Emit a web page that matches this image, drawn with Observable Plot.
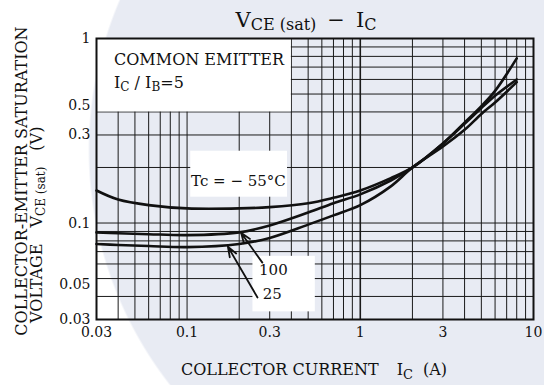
<!DOCTYPE html>
<html><head><meta charset="utf-8">
<script src="https://cdn.jsdelivr.net/npm/d3@7"></script>
<script src="https://cdn.jsdelivr.net/npm/@observablehq/plot@0.6"></script>
<style>
html,body{margin:0;padding:0;}
body{width:544px;height:385px;overflow:hidden;font-family:"DejaVu Serif",serif;
background:radial-gradient(circle at 470px 150px,#e8ebf3 0,#e8ebf3 380px,#ffffff 382px);}
#chart svg{display:block;}
</style></head><body><div id="chart"></div>
<script>
// Collector current (A), shared by all three curves
const ic = [0.03,0.04,0.06,0.1,0.2,0.3,0.5,0.7,1,1.5,2,3,4,5,6,8];
// VCE(sat) (V) for each case temperature
const vceM55 = [0.15,0.134,0.125,0.12,0.12,0.122,0.128,0.137,0.15,0.175,0.2,0.27,0.35,0.43,0.52,0.78];
const vce100 = [0.089,0.088,0.087,0.086,0.089,0.097,0.114,0.128,0.143,0.17,0.2,0.27,0.345,0.42,0.49,0.6];
const vce25  = [0.077,0.076,0.075,0.074,0.077,0.083,0.098,0.11,0.125,0.158,0.2,0.26,0.32,0.39,0.45,0.58];
const seriesNames = ["-55","100","25"];

// axes
const xTicks = [0.03,0.1,0.3,1,3,10];
const xTickLabels = ["0.03","0.1","0.3","1","3","10"];
const yTicks = [0.03,0.05,0.1,0.3,0.5,1];
const yTickLabels = ["0.03","0.05","0.1","0.3","0.5","1"];
const xGrid = [0.04,0.05,0.06,0.07,0.08,0.09,0.1,0.2,0.3,0.4,0.5,0.6,0.7,0.8,0.9,1,2,3,4,5,6,7,8,9];
const yGrid = [0.04,0.05,0.06,0.07,0.08,0.09,0.1,0.2,0.3,0.4,0.5,0.6,0.7,0.8,0.9];

// annotation anchors (data coordinates)
const legendBox = [{x1:0.03,x2:0.4,y1:0.4,y2:1}];
const labelBoxes = [{x1:0.105,x2:0.38,y1:0.138,y2:0.245},{x1:0.24,x2:0.55,y1:0.033,y2:0.066}];
const arrows = [{x1:0.272,y1:0.061,x2:0.205,y2:0.0885},{x1:0.255,y1:0.0395,x2:0.172,y2:0.0745}];
const tempLabels = [{x:0.198,y:0.168,t:"Tc = \u2212 55\u00B0C"},{x:0.315,y:0.0553,t:"100"},{x:0.31,y:0.041,t:"25"}];

const rows = [];
[vceM55,vce100,vce25].forEach((v,k)=>v.forEach((val,i)=>rows.push({s:seriesNames[k],x:ic[i],y:val})));
const xTickRows = xTicks.map((v,i)=>({v,label:xTickLabels[i]}));
const yNudge = {0.5:11,0.05:6,0.03:0};
const yTickRows = yTicks.map((v,i)=>({v,label:yTickLabels[i],dy:yNudge[v]||0}));

const font = "DejaVu Serif";

const fig = Plot.plot({
  width:544, height:385,
  marginLeft:96, marginRight:11, marginTop:38, marginBottom:66,
  style:{background:"transparent", fontFamily:font, fontSize:"14px", color:"#111", overflow:"visible"},
  x:{type:"log", domain:[0.03,10], axis:null},
  y:{type:"log", domain:[0.03,1], axis:null},
  marks:[
    Plot.ruleX(xGrid,{stroke:"#1a1a1a",strokeWidth:d=>d===1?1.6:1}),
    Plot.ruleY(yGrid,{stroke:"#1a1a1a",strokeWidth:1}),
    Plot.rect(legendBox,{x1:"x1",x2:"x2",y1:"y1",y2:"y2",fill:"white"}),
    Plot.rect(labelBoxes,{x1:"x1",x2:"x2",y1:"y1",y2:"y2",fill:"white"}),
    Plot.line(rows,{x:"x",y:"y",z:"s",stroke:"#111",strokeWidth:2.6,curve:"catmull-rom"}),
    Plot.arrow(arrows,{x1:"x1",y1:"y1",x2:"x2",y2:"y2",stroke:"#111",strokeWidth:1.8,headLength:9,headAngle:40}),
    Plot.text(tempLabels,{x:"x",y:"y",text:"t",fontSize:15,fill:"#111"}),
    Plot.frame({stroke:"#111",strokeWidth:2}),
    Plot.text(xTickRows,{x:"v",text:"label",frameAnchor:"bottom",lineAnchor:"top",dy:8,fontSize:14,fill:"#111"}),
    ...[0,6,11].map(n=>Plot.text(yTickRows.filter(r=>r.dy===n),{y:"v",text:"label",frameAnchor:"left",textAnchor:"end",dx:-6,dy:n,fontSize:14,fill:"#111"}))
  ]
});
document.getElementById("chart").appendChild(fig);

const sx = fig.scale("x"), sy = fig.scale("y");
const svg = d3.select(fig);
function rich(g, parts){
  parts.forEach(p=>{
    const ts = g.append("tspan").text(p.t).attr("font-size",p.size);
    if(p.dy) ts.attr("dy",p.dy);
    if(p.dx) ts.attr("dx",p.dx);
  });
  return g;
}
function txt(x,y,anchor,size){
  return svg.append("text").attr("x",x).attr("y",y).attr("text-anchor",anchor)
    .attr("font-family",font).attr("font-size",size).attr("fill","#111");
}
// title
rich(txt(306,27,"middle",21),[
  {t:"V",size:21},{t:"CE",size:16,dy:3},{t:" (sat)",size:16},
  {t:"\u2212",size:21,dy:-3,dx:11},{t:"I",size:21,dx:11},{t:"C",size:16,dy:3}]);
// legend text in box
const lx = sx.apply(0.03)+18, ly = sy.apply(1);
txt(lx,ly+27,"start",16).text("COMMON EMITTER");
rich(txt(lx,ly+50,"start",16),[
  {t:"I",size:16},{t:"C",size:12,dy:3},{t:" / I",size:16,dy:-3},{t:"B",size:12,dy:3},{t:"=5",size:16,dy:-3}]);
// x axis title
rich(txt(181,375,"start",16),[
  {t:"COLLECTOR CURRENT",size:16},{t:"I",size:16,dx:18},{t:"C",size:13,dy:4},{t:"(A)",size:16,dy:-4,dx:10}]);
// y axis title (two rotated lines)
txt(0,0,"middle",16).attr("transform","translate(27,181) rotate(-90)").text("COLLECTOR-EMITTER SATURATION");
rich(txt(0,0,"start",16).attr("transform","translate(42,323) rotate(-90)"),[
  {t:"VOLTAGE",size:16},{t:"V",size:16,dx:16},{t:"CE",size:12,dy:3},{t:" (sat)",size:12},{t:"(V)",size:16,dy:-3,dx:16}]);
</script>
</body></html>
